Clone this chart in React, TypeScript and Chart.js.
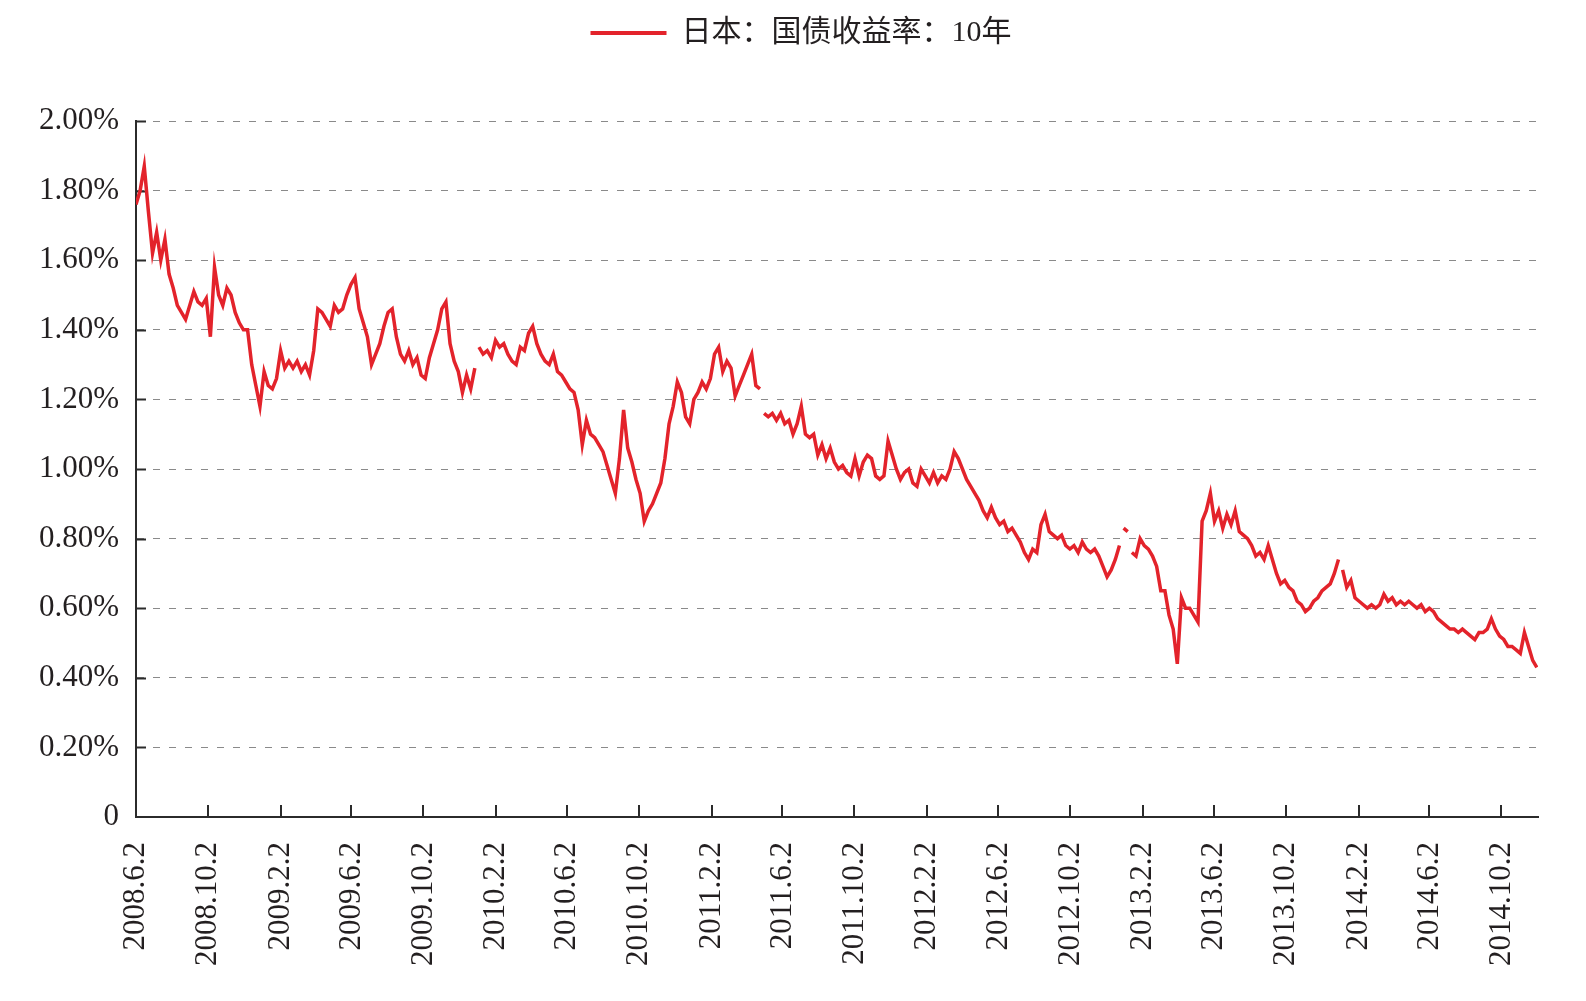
import React, { useEffect, useRef } from "react";
import { Chart, registerables } from "chart.js";

Chart.register(...registerables);

// ---------- data ----------
const seriesLabel = "日本：国债收益率：10年";
const startDate = "2008.6.2"; // first weekly observation (Monday)
const axisEndDate = "2014.12.3";
const xTickLabels = [
  "2008.6.2", "2008.10.2", "2009.2.2", "2009.6.2", "2009.10.2", "2010.2.2", "2010.6.2",
  "2010.10.2", "2011.2.2", "2011.6.2", "2011.10.2", "2012.2.2", "2012.6.2", "2012.10.2",
  "2013.2.2", "2013.6.2", "2013.10.2", "2014.2.2", "2014.6.2", "2014.10.2",
];
// holidays where the series has no value (line breaks)
const gapDates = ["2009.12.31", "2011.4.29", "2012.12.27", "2013.1.10", "2014.1.2"];

// weekly 10Y JGB yield, % (Mondays starting 2008.6.2)
const y2008 = [
  1.76, 1.8, 1.87, 1.74, 1.62, 1.68, 1.6, 1.66, 1.56, 1.52,
  1.47, 1.45, 1.43, 1.47, 1.51, 1.48, 1.47, 1.49, 1.38, 1.58,
  1.5, 1.47, 1.52, 1.5, 1.45, 1.42, 1.4, 1.4, 1.3, 1.24,
  1.18,
];
const y2009 = [
  1.28, 1.24, 1.23, 1.26, 1.34, 1.29, 1.31, 1.29, 1.31, 1.28,
  1.3, 1.27, 1.34, 1.46, 1.45, 1.43, 1.41, 1.47, 1.45, 1.46,
  1.5, 1.53, 1.55, 1.46, 1.42, 1.38, 1.3, 1.33, 1.36, 1.41,
  1.45, 1.46, 1.38, 1.33, 1.31, 1.34, 1.3, 1.32, 1.27, 1.26,
  1.32, 1.36, 1.4, 1.46, 1.48, 1.36, 1.31, 1.28, 1.22, 1.27,
  1.23, 1.29,
];
const y2010 = [
  1.35, 1.33, 1.34, 1.32, 1.37, 1.35, 1.36, 1.33, 1.31, 1.3,
  1.35, 1.34, 1.39, 1.41, 1.36, 1.33, 1.31, 1.3, 1.33, 1.28,
  1.27, 1.25, 1.23, 1.22, 1.17, 1.07, 1.14, 1.1, 1.09, 1.07,
  1.05, 1.01, 0.97, 0.93, 1.03, 1.17, 1.06, 1.02, 0.97, 0.93,
  0.85, 0.88, 0.9, 0.93, 0.96, 1.03, 1.13, 1.18, 1.25, 1.22,
  1.15, 1.13,
];
const y2011 = [
  1.2, 1.22, 1.25, 1.23, 1.26, 1.33, 1.35, 1.28, 1.31, 1.29,
  1.21, 1.24, 1.27, 1.3, 1.33, 1.24, 1.23, 1.16, 1.15, 1.16,
  1.14, 1.16, 1.13, 1.14, 1.1, 1.13, 1.18, 1.1, 1.09, 1.1,
  1.04, 1.07, 1.03, 1.06, 1.02, 1.0, 1.01, 0.99, 0.98, 1.03,
  0.98, 1.02, 1.04, 1.03, 0.98, 0.97, 0.98, 1.08, 1.04, 1.0,
  0.97, 0.99,
];
const y2012 = [
  1.0, 0.96, 0.95, 1.0, 0.98, 0.96, 0.99, 0.96, 0.98, 0.97,
  1.0, 1.05, 1.03, 1.0, 0.97, 0.95, 0.93, 0.91, 0.88, 0.86,
  0.89, 0.86, 0.84, 0.85, 0.82, 0.83, 0.81, 0.79, 0.76, 0.74,
  0.77, 0.76, 0.84, 0.87, 0.82, 0.81, 0.8, 0.81, 0.78, 0.77,
  0.78, 0.76, 0.79, 0.77, 0.76, 0.77, 0.75, 0.72, 0.69, 0.71,
  0.74, 0.78,
];
const y2013 = [
  0.83, 0.82, 0.76, 0.75, 0.8, 0.78, 0.77, 0.75, 0.72, 0.65,
  0.65, 0.58, 0.54, 0.44, 0.63, 0.6, 0.6, 0.58, 0.56, 0.85,
  0.88, 0.93, 0.85, 0.88, 0.83, 0.87, 0.84, 0.88, 0.82, 0.81,
  0.8, 0.78, 0.75, 0.76, 0.74, 0.78, 0.74, 0.7, 0.67, 0.68,
  0.66, 0.65, 0.62, 0.61, 0.59, 0.6, 0.62, 0.63, 0.65, 0.66,
  0.67, 0.7,
];
const y2014 = [
  0.74, 0.71, 0.66, 0.68, 0.63, 0.62, 0.61, 0.6, 0.61, 0.6,
  0.61, 0.64, 0.62, 0.63, 0.61, 0.62, 0.61, 0.62, 0.61, 0.6,
  0.61, 0.59, 0.6, 0.59, 0.57, 0.56, 0.55, 0.54, 0.54, 0.53,
  0.54, 0.53, 0.52, 0.51, 0.53, 0.53, 0.54, 0.57, 0.54, 0.52,
  0.51, 0.49, 0.49, 0.48, 0.47, 0.53, 0.49, 0.45, 0.43,
];

// ---------- helpers ----------
const DAY = 86400000;
function parseDate(s: string): number {
  const [y, m, d] = s.split(".").map(Number);
  return Date.UTC(y, m - 1, d);
}
function dayOf(s: string): number {
  return Math.round((parseDate(s) - parseDate(startDate)) / DAY);
}

const RED = "#e3232b";
const AXIS = "#2b2b2b";
const TEXT = "#231f20";
const SERIF = "'Liberation Serif', 'Times New Roman', 'DejaVu Serif', serif";

const W = 1586;
const H = 1001;
const PLOT_LEFT = 136;
const PLOT_TOP = 121;
const PLOT_BOTTOM = 817;
const PLOT_RIGHT = 1538;
const LEGEND_SHIFT = 32;

export default function App() {
  const ref = useRef<HTMLCanvasElement | null>(null);

  useEffect(() => {
    document.body.style.margin = "0";
    document.body.style.overflow = "hidden";
    const canvas = ref.current;
    if (!canvas) return;

    const weekly = [...y2008, ...y2009, ...y2010, ...y2011, ...y2012, ...y2013, ...y2014];
    const pts: { x: number; y: number | null }[] = weekly.map((v, i) => ({ x: i * 7, y: v }));
    gapDates.forEach((g) => pts.push({ x: dayOf(g), y: null }));
    pts.sort((a, b) => a.x - b.x);

    const tickDays = xTickLabels.map(dayOf);

    const legendSpacer = {
      id: "legendSpacer",
      beforeLayout(chart: any) {
        const lg = chart.legend;
        if (lg && !lg.__patched) {
          const fit = lg.fit.bind(lg);
          lg.fit = () => {
            fit();
            lg.height = PLOT_TOP;
          };
          lg.__patched = true;
        }
      },
      afterLayout(chart: any) {
        const lg = chart.legend;
        if (lg) {
          lg.left += LEGEND_SHIFT;
          lg.right += LEGEND_SHIFT;
          if (lg.legendHitBoxes) lg.legendHitBoxes.forEach((h: any) => (h.left += LEGEND_SHIFT));
        }
      },
    };

    const insideTicks = {
      id: "insideTicks",
      beforeDatasetsDraw(chart: any) {
        const { ctx, chartArea, scales } = chart;
        const xs = scales.x;
        const ys = scales.y;
        ctx.save();
        ctx.strokeStyle = AXIS;
        ctx.lineWidth = 2;
        ys.ticks.forEach((t: any) => {
          if (t.value === 0) return;
          const py = Math.round(ys.getPixelForValue(t.value)) + 0.5;
          ctx.beginPath();
          ctx.moveTo(chartArea.left, py);
          ctx.lineTo(chartArea.left + 10, py);
          ctx.stroke();
        });
        xs.ticks.forEach((t: any) => {
          const px = Math.round(xs.getPixelForValue(t.value));
          if (px <= chartArea.left + 2) return;
          ctx.beginPath();
          ctx.moveTo(px, chartArea.bottom);
          ctx.lineTo(px, chartArea.bottom - 12);
          ctx.stroke();
        });
        ctx.restore();
      },
    };

    const chart = new Chart(canvas, {
      type: "line",
      data: {
        datasets: [
          {
            label: seriesLabel,
            data: pts as any,
            borderColor: RED,
            backgroundColor: RED,
            borderWidth: 3.5,
            pointRadius: 0,
            tension: 0,
            spanGaps: false,
          },
        ],
      },
      options: {
        animation: false,
        responsive: false,
        devicePixelRatio: 1,
        layout: { padding: { left: 0, right: W - PLOT_RIGHT, top: 0, bottom: 0 } },
        plugins: {
          tooltip: { enabled: false },
          legend: {
            display: true,
            position: "top",
            align: "center",
            labels: {
              boxWidth: 76,
              boxHeight: 4,
              padding: 18,
              color: TEXT,
              font: { family: "'Liberation Serif', 'Noto Sans CJK SC', serif", size: 30 },
              generateLabels: () => [
                {
                  text: seriesLabel,
                  fillStyle: RED,
                  strokeStyle: RED,
                  lineWidth: 0,
                  hidden: false,
                  datasetIndex: 0,
                  fontColor: TEXT,
                } as any,
              ],
            },
          },
        },
        scales: {
          x: {
            type: "linear",
            min: 0,
            max: dayOf(axisEndDate),
            afterBuildTicks: (scale: any) => {
              scale.ticks = tickDays.map((v) => ({ value: v }));
            },
            afterFit: (scale: any) => {
              scale.height = H - PLOT_BOTTOM;
            },
            grid: { display: false, drawTicks: false },
            border: { display: true, color: AXIS, width: 2 },
            ticks: {
              autoSkip: false,
              minRotation: 90,
              maxRotation: 90,
              padding: 25,
              color: TEXT,
              font: { family: SERIF, size: 31 },
              callback: (_v: any, i: number) => xTickLabels[i],
            },
          },
          y: {
            type: "linear",
            min: 0,
            max: 2,
            afterFit: (scale: any) => {
              scale.width = PLOT_LEFT;
            },
            grid: { color: "#8a8a8a", lineWidth: 1, drawTicks: false },
            border: { display: true, color: AXIS, width: 2, dash: [7, 9] },
            ticks: {
              stepSize: 0.2,
              padding: 17,
              color: TEXT,
              font: { family: SERIF, size: 31 },
              callback: (v: any) => (Number(v) === 0 ? "0" : Number(v).toFixed(2) + "%"),
            },
          },
        },
      },
      plugins: [legendSpacer, insideTicks],
    });

    return () => chart.destroy();
  }, []);

  return (
    <div style={{ width: W, height: H, background: "#fff" }}>
      <canvas ref={ref} width={W} height={H} style={{ display: "block" }} />
    </div>
  );
}
